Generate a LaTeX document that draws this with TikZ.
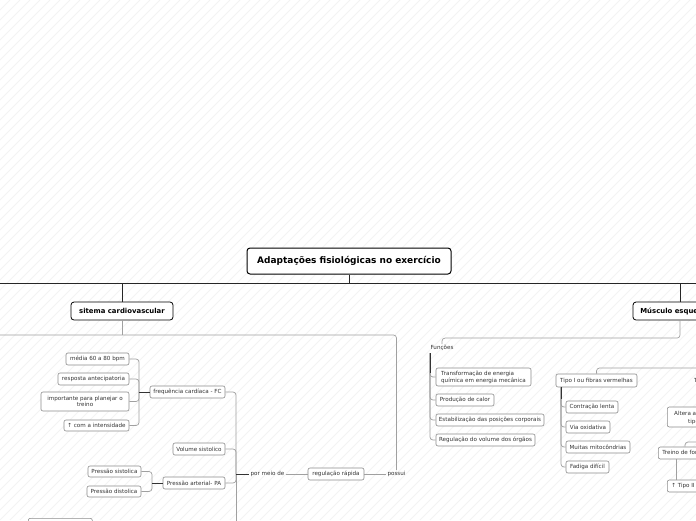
\documentclass[tikz,border=0pt]{standalone}
\usepackage{fontspec}
\setmainfont{DejaVu Sans}
\usetikzlibrary{calc}
\definecolor{boxgray}{HTML}{8C8C8C}
\definecolor{linegray}{HTML}{A0A0A0}
\definecolor{txt}{HTML}{333333}
\definecolor{hatch}{HTML}{F3F3F3}
\tikzset{
  mainbox/.style={draw=black, line width=1pt, rounded corners=3pt, fill=white,
    font=\fontsize{9}{10}\selectfont\bfseries, text=black, inner sep=0pt},
  lvlbox/.style={draw=black, line width=0.8pt, rounded corners=3pt, fill=white,
    font=\fontsize{6.9}{8}\selectfont\bfseries, text=black, inner sep=0pt, minimum height=18pt},
  sbox/.style={draw=boxgray, line width=0.6pt, rounded corners=2pt, fill=white,
    font=\fontsize{5.6}{6.8}\selectfont, text=txt, inner sep=0pt, minimum height=12pt, align=center},
  plain/.style={font=\fontsize{5.6}{6.8}\selectfont, text=txt, inner sep=1pt},
  conn/.style={draw=linegray, line width=0.7pt, rounded corners=3pt},
  dconn/.style={draw=black!80, line width=0.9pt},
  topline/.style={draw=black!85, line width=0.9pt, rounded corners=3pt},
}
\begin{document}
\begin{tikzpicture}[x=1pt, y=-1pt]
\useasboundingbox (0,0) rectangle (696,520);
\clip (0,0) rectangle (696,520);
\fill[white] (0,0) rectangle (696,520);
% faint hatching
\foreach \i in {-520,-510,...,700} {
  \draw[hatch, line width=1pt] (\i,520) -- (\i+520,0);
}

% ---- nodes ----
\node[mainbox, minimum width=204pt, minimum height=26pt] (main) at (349,261) {Adaptações fisiológicas no exercício};
\node[lvlbox, minimum width=102pt] (card) at (122,311) {sitema cardiovascular};
\node[lvlbox, minimum width=94pt] (mus) at (680,311) {Músculo esquelético};

\node[sbox, minimum width=75pt] (fc) at (187.5,392) {frequência cardíaca - FC};
\node[sbox, minimum width=63pt] (m1) at (97.5,359) {média 60 a 80 bpm};
\node[sbox, minimum width=71pt] (m2) at (93.5,379) {resposta antecipatoria};
\node[sbox, minimum width=88pt, minimum height=19pt] (m3) at (85,401.5) {importante para planejar o\\treino};
\node[sbox, minimum width=65pt, minimum height=11pt] (m4) at (96.5,425.5) {↑ com a intensidade};
\node[sbox, minimum width=52pt] (vs) at (199,449) {Volume sistolico};
\node[sbox, minimum width=62pt] (pa) at (194,483) {Pressão arterial- PA};
\node[sbox, minimum width=53pt, minimum height=11pt] (ps) at (114.5,471.5) {Pressão sistolica};
\node[sbox, minimum width=54pt, minimum height=11pt] (pd) at (114,491.5) {Pressão distolica};
\node[plain] (por) at (267.5,474) {por meio de};
\node[sbox, minimum width=56pt] (reg) at (336,474) {regulação rápida};
\node[plain] (pos) at (396.5,474) {possui};
\node[sbox, minimum width=64pt, anchor=north west] (bl) at (28,518) {\phantom{x}};

\node[plain] (fun) at (442,348) {Funções};
\node[sbox, minimum width=95pt, minimum height=18pt, align=left] (f1) at (483.5,377) {Transformação de energia\\química em energia mecânica};
\node[sbox, minimum width=58pt] (f2) at (465,400) {Produção de calor};
\node[sbox, minimum width=108pt] (f3) at (490,420) {Estabilização das posições corporais};
\node[sbox, minimum width=99pt] (f4) at (485.5,440) {Regulação do volume dos órgãos};

\node[sbox, minimum width=81pt, minimum height=13pt] (t1) at (596.5,380.5) {Tipo I ou fibras vermelhas};
\node[sbox, minimum width=52pt] (c1) at (592,407) {Contração lenta};
\node[sbox, minimum width=44pt] (c2) at (588,427) {Via oxidativa};
\node[sbox, minimum width=64pt] (c3) at (598,447) {Muitas mitocôndrias};
\node[sbox, minimum width=43pt] (c4) at (587.5,467) {Fadiga difícil};

\node[plain, anchor=west, inner sep=0pt] (t2) at (694,380.5) {Tipo II ou fibras brancas};
\node[sbox, minimum width=60pt, minimum height=20pt, anchor=west] (alt) at (667,417) {};
\node[plain, anchor=west, inner sep=0pt] (alt1) at (674,413) {Altera a};
\node[plain, anchor=west, inner sep=0pt] (alt2) at (688,421.5) {tipo};
\node[sbox, anchor=west, align=left, inner xsep=4pt] (tr) at (658,453) {Treino de força};
\node[sbox, anchor=west, align=left, inner xsep=4pt, minimum height=12pt] (tii) at (667,486) {↑ Tipo II};

% ---- coordinates ----
\coordinate (hl) at (0,283);
\coordinate (hr) at (696,283);
\coordinate (ml) at (0,335);
\coordinate (fcj) at (139,392);
\coordinate (paj) at (152,483);
\coordinate (bj) at (236,474);
\coordinate (bjend) at (236,530);
\coordinate (fj) at (430,353);
\coordinate (tj) at (561,387);
\coordinate (t1r) at (700,368);
\coordinate (trr) at (700,442);

% ---- connectors ----
\draw[topline] (hl) -- (hr);
\draw[topline] (main.south) -- (main.south |- hl);
\draw[topline] (card.north |- hl) -- (card.north);
\draw[topline] (mus.north |- hl) -- (mus.north);

\draw[conn] (card.south) -- (card.south |- ml);
\draw[conn] (ml) -| (pos.north);
\draw[conn] (mus.south) |- ($(fun.north)+(0,-6)$) -- (fun.north);

% cardio FC bracket
\draw[conn] (m1.east) -| (fcj);
\draw[conn] (m2.east) -| (fcj);
\draw[conn] (m3.east) -| (fcj);
\draw[conn] (m4.east) -| (fcj);
\draw[dconn] (fcj) -- (fc.west);
% PA bracket
\draw[conn] (ps.east) -| (paj);
\draw[conn] (pd.east) -| (paj);
\draw[dconn] (paj) -- (pa.west);
% big bracket
\draw[conn] (fc.east) -| (bj);
\draw[conn] (vs.east) -| (bj);
\draw[conn] (pa.east) -| (bj);
\draw[conn] (bj) -- (bjend);
\draw[dconn] (bj) -- (por.west);
\draw[conn] (por.east) -- (reg.west);
\draw[conn] (reg.east) -- (pos.west);

% Funções
\draw[conn] (fj) |- (f1.west);
\draw[conn] (fj) |- (f2.west);
\draw[conn] (fj) |- (f3.west);
\draw[conn] (fj) |- (f4.west);
\draw[dconn] (fj) -- ($(fj)+(0,20)$);

% Tipo I
\draw[conn] (t1.north) |- (t1r);
\draw[conn] (tj) |- (c1.west);
\draw[conn] (tj) |- (c2.west);
\draw[conn] (tj) |- (c3.west);
\draw[conn] (tj) |- (c4.west);
\draw[dconn] (tj) -- ($(tj)+(0,12)$);

% Treino
\draw[conn] ($(tr.north west)+(27,0)$) |- (trr);
\draw[conn] ($(tr.south west)+(18,0)$) -- ($(tii.north west)+(9,0)$);
\end{tikzpicture}
\end{document}
